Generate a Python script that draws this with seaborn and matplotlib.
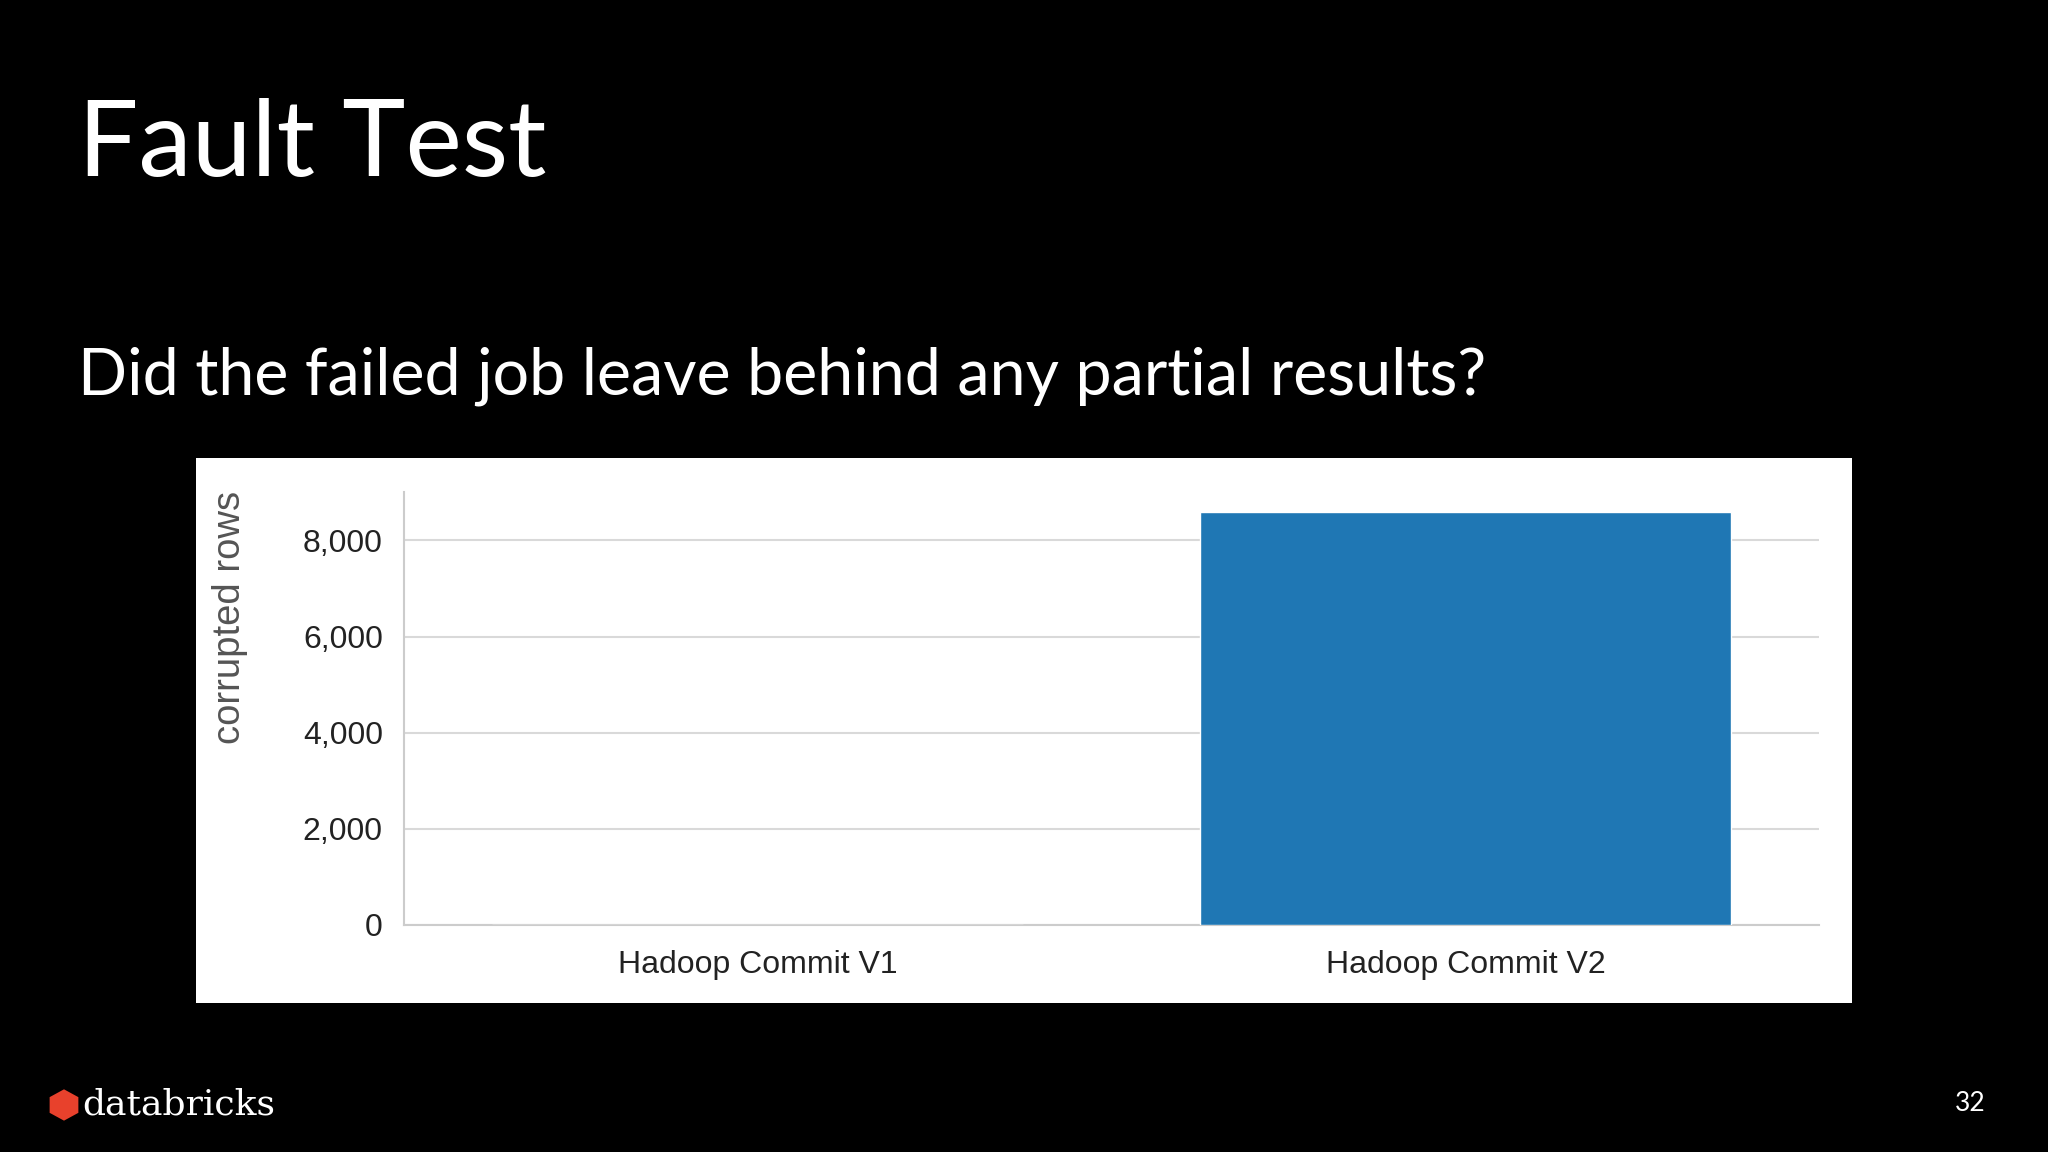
import matplotlib
matplotlib.use("Agg")
import matplotlib.pyplot as plt
import seaborn as sns
import pandas as pd
from matplotlib.patches import Polygon

categories = ["Hadoop Commit V1", "Hadoop Commit V2"]
values = [0, 8590]
yticks = [0, 2000, 4000, 6000, 8000]

sns.set_theme(style="white")
plt.rcParams['font.family'] = ['Liberation Sans', 'DejaVu Sans']

fig = plt.figure(figsize=(20.48, 11.52), dpi=100, facecolor="black")
W, H = 1568, 882
bg = fig.add_axes([150/W, 1-768/H, 1268/W, 417/H], zorder=-5)
bg.set_facecolor("white")
bg.set_xticks([]); bg.set_yticks([])
for s in bg.spines.values():
    s.set_visible(False)

ax = fig.add_axes([309/W, 1-708/H, 1084/W, 331/H], zorder=1)
ax.set_facecolor("white")
df = pd.DataFrame({"cat": categories, "val": values})
sns.barplot(data=df, x="cat", y="val", color="#1f77b4", saturation=1, width=0.75, ax=ax, zorder=3)
ax.set_ylim(0, 9000)
ax.set_yticks(yticks)
ax.set_yticklabels([f"{v:,}" for v in yticks])
ax.yaxis.grid(True, color="#d9d9d9", linewidth=1.5, zorder=0)
ax.set_axisbelow(True)
for s in ["top", "right"]:
    ax.spines[s].set_visible(False)
for s in ["left", "bottom"]:
    ax.spines[s].set_color("#cccccc")
    ax.spines[s].set_linewidth(1.5)
ax.tick_params(axis="both", length=10, width=1.5, color="#cccccc", labelsize=23, labelcolor="#222222", direction="out")
ax.tick_params(axis="x", pad=8)
ax.tick_params(axis="y", pad=5)
ax.set_xlabel("")
ax.set_ylabel("corrupted rows", fontsize=27.5, color="#555555")
ax.yaxis.set_label_coords(-0.11, 0.71)

fig.text(60/W, 1-135/H, "Fault Test", color="white", fontsize=77, family=["Lato", "DejaVu Sans"], va="baseline")
fig.text(60/W, 1-302/H, "Did the failed job leave behind any partial results?", color="white",
         fontsize=46.5, family=["Lato", "DejaVu Sans"], va="baseline")
fig.text(63/W, 1-846/H, "databricks", color="white", fontsize=26, family=["DejaVu Serif"], va="center")
fig.patches.append(Polygon([(38/W, 1-840/H), (49/W, 1-834/H), (60/W, 1-840/H), (60/W, 1-852/H),
                            (49/W, 1-858/H), (38/W, 1-852/H)], closed=True, transform=fig.transFigure,
                           facecolor="#e8412c", edgecolor="none"))
fig.text(1520/W, 1-845/H, "32", color="white", fontsize=19, family=["Lato", "DejaVu Sans"], ha="right", va="center")

fig.savefig("out.png", dpi=100, facecolor="black")
